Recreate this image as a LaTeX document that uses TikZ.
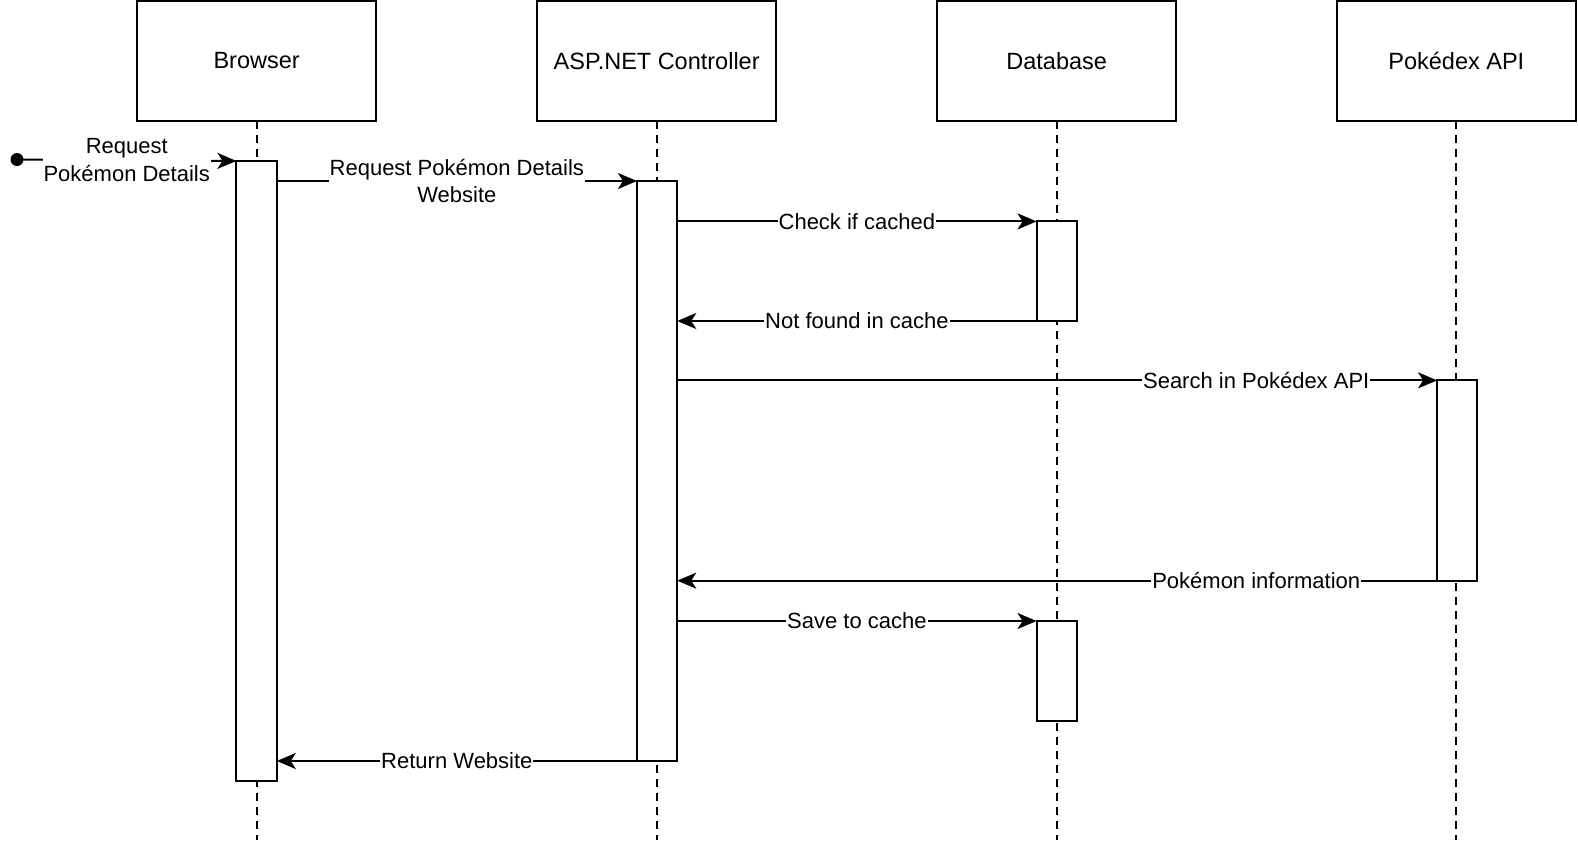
\documentclass[tikz,border=0pt]{standalone}
\usepackage{fontspec}
\setmainfont{Liberation Sans}
\usetikzlibrary{arrows.meta,calc}
\begin{document}
\begin{tikzpicture}[x=1pt,y=-1pt,
 line width=2pt,
 head/.style={draw, rectangle, minimum width=239.5pt, minimum height=120pt, font=\fontsize{23.5}{28}\selectfont, outer sep=0pt, inner sep=0pt},
 act/.style={draw, fill=white, minimum width=40.3pt, outer sep=0pt, inner sep=0pt},
 life/.style={dash pattern=on 8pt off 6pt, line width=2pt},
 msg/.style={-{Stealth[length=19pt,width=16pt,inset=5pt]}},
 lbl/.style={fill=white, inner sep=1pt, font=\fontsize{22}{27.5}\selectfont, align=center}]
\useasboundingbox (0,0) rectangle (1578,846);

% headers
\node[head] (bH) at (256.6,61) {Browser};
\node[head] (aH) at (656.7,61) {ASP.NET Controller};
\node[head] (dH) at (1056.7,61) {Database};
\node[head] (pH) at (1456.3,61) {Pokédex API};

% lifeline ends
\coordinate (bE) at (256.6,840);
\coordinate (aE) at (656.7,840);
\coordinate (dE) at (1056.7,840);
\coordinate (pE) at (1456.3,840);

\draw[life] (bH.south) -- (bE);
\draw[life] (aH.south) -- (aE);
\draw[life] (dH.south) -- (dE);
\draw[life] (pH.south) -- (pE);

% activations
\node[act, minimum height=620pt] (bA) at (256.6,471) {};
\node[act, minimum height=580pt] (aA) at (657.1,471) {};
\node[act, minimum height=99.6pt] (d1) at (1056.7,271.2) {};
\node[act, minimum height=200.3pt] (pA) at (1457.2,480.5) {};
\node[act, minimum height=99.6pt] (d2) at (1056.7,670.8) {};

% start dot
\node[circle, fill, inner sep=0pt, minimum size=13pt] (start) at (17,159.5) {};

% messages
\draw[msg] (start.center) -- node[lbl] {Request\\Pokémon Details} (bA.north west);
\draw[msg] (bA.east |- aA.north west) -- node[lbl] {Request Pokémon Details\\Website} (aA.north west);
\draw[msg] (aA.east |- d1.north west) -- node[lbl] {Check if cached} (d1.north west);
\draw[msg] (d1.south west) -- node[lbl] {Not found in cache} (aA.east |- d1.south west);
\draw[msg] (aA.east |- pA.north west) -- node[lbl, pos=0.762] {Search in Pokédex API} (pA.north west);
\draw[msg] (pA.south west) -- node[lbl, pos=0.238] {Pokémon information} (aA.east |- pA.south west);
\draw[msg] (aA.east |- d2.north west) -- node[lbl] {Save to cache} (d2.north west);
\draw[msg] (aA.south west) -- node[lbl] {Return Website} (bA.east |- aA.south west);
\end{tikzpicture}
\end{document}
